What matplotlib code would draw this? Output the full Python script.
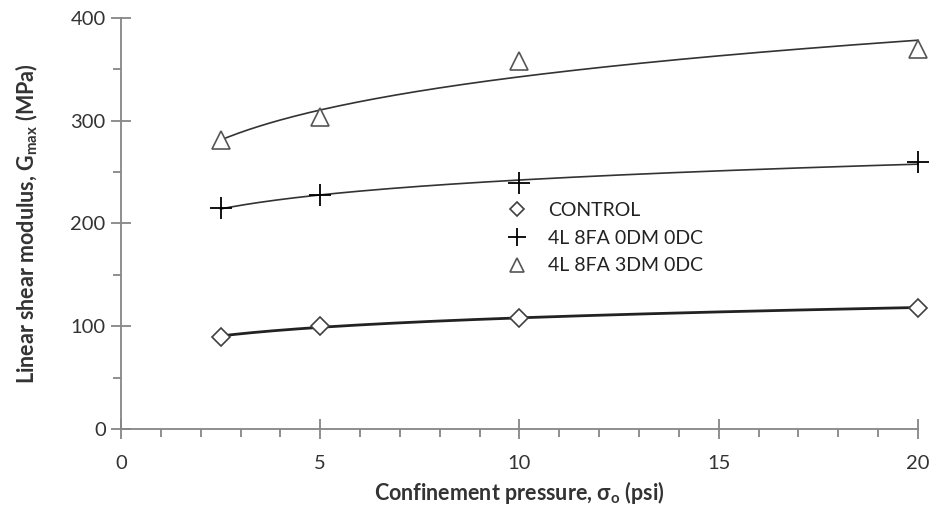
import numpy as np
import matplotlib
matplotlib.use("Agg")
import matplotlib.pyplot as plt
from matplotlib.ticker import MultipleLocator

plt.rcParams['font.family'] = ['Lato', 'DejaVu Sans']

# confinement pressure (psi) and Gmax (MPa) for each mix
pressure = [2.5, 5, 10, 20]
control = [90, 100, 108, 118]
mix_0dm = [215, 228, 239, 260]
mix_3dm = [281, 304, 358, 370]

labels = ['CONTROL', '4L 8FA 0DM 0DC', '4L 8FA 3DM 0DC']


def power_fit(x, y):
    # y = a * x^b, fitted in log space like an Excel power trendline
    b, ln_a = np.polyfit(np.log(x), np.log(y), 1)
    xs = np.linspace(min(x), max(x), 200)
    return xs, np.exp(ln_a) * xs ** b


fig = plt.figure(figsize=(9.35, 5.12), dpi=100)
ax = fig.add_axes([0.1294, 0.162, 0.8524, 0.803])

grey = '#868686'

ax.plot(pressure, control, linestyle='none', marker='D', markersize=9,
        markerfacecolor='white', markeredgecolor='#404040', markeredgewidth=1.2,
        label=labels[0], clip_on=False)
ax.plot(pressure, mix_0dm, linestyle='none', marker='+', markersize=16,
        markeredgecolor='black', markeredgewidth=1.3, label=labels[1],
        clip_on=False)
ax.plot(pressure, mix_3dm, linestyle='none', marker='^', markersize=13,
        markerfacecolor='white', markeredgecolor='#555555', markeredgewidth=1.2,
        label=labels[2], clip_on=False)

xs, ys = power_fit(pressure, control)
ax.plot(xs, ys, color='#222222', linewidth=2.0, zorder=1, clip_on=False)
xs, ys = power_fit(pressure, mix_0dm)
ax.plot(xs, ys, color='#333333', linewidth=1.2, zorder=1, clip_on=False)
xs, ys = power_fit(pressure, mix_3dm)
ax.plot(xs, ys, color='#333333', linewidth=1.2, zorder=1, clip_on=False)

ax.set_xlim(0, 20)
ax.set_ylim(0, 400)
ax.xaxis.set_major_locator(MultipleLocator(5))
ax.xaxis.set_minor_locator(MultipleLocator(1))
ax.yaxis.set_major_locator(MultipleLocator(100))
ax.yaxis.set_minor_locator(MultipleLocator(50))

for side in ['top', 'right']:
    ax.spines[side].set_visible(False)
for side in ['left', 'bottom']:
    ax.spines[side].set_color(grey)
    ax.spines[side].set_linewidth(1.3)
    ax.spines[side].set_clip_on(False)

ax.tick_params(which='major', direction='inout', length=14, width=1.3,
               color=grey, labelsize=14.5, labelcolor='#333333', pad=4)
ax.tick_params(which='minor', direction='out', length=6, width=1.3, color=grey)
ax.tick_params(axis='x', pad=12)

ax.set_xlabel('Confinement pressure, $\\mathregular{\\sigma_o}$ (psi)',
              fontsize=15.5, fontweight='bold', color='#333333', labelpad=5)
ax.set_ylabel('Linear shear modulus, G$\\mathregular{_{max}}$ (MPa)',
              fontsize=15.5, fontweight='bold', color='#333333', labelpad=22)

ax.legend(loc='upper left', bbox_to_anchor=(0.458, 0.595), frameon=False,
          fontsize=14, handletextpad=0.9, labelspacing=0.55, handlelength=1.4,
          markerscale=0.8, labelcolor='#222222')

fig.savefig('out.png', dpi=100)
